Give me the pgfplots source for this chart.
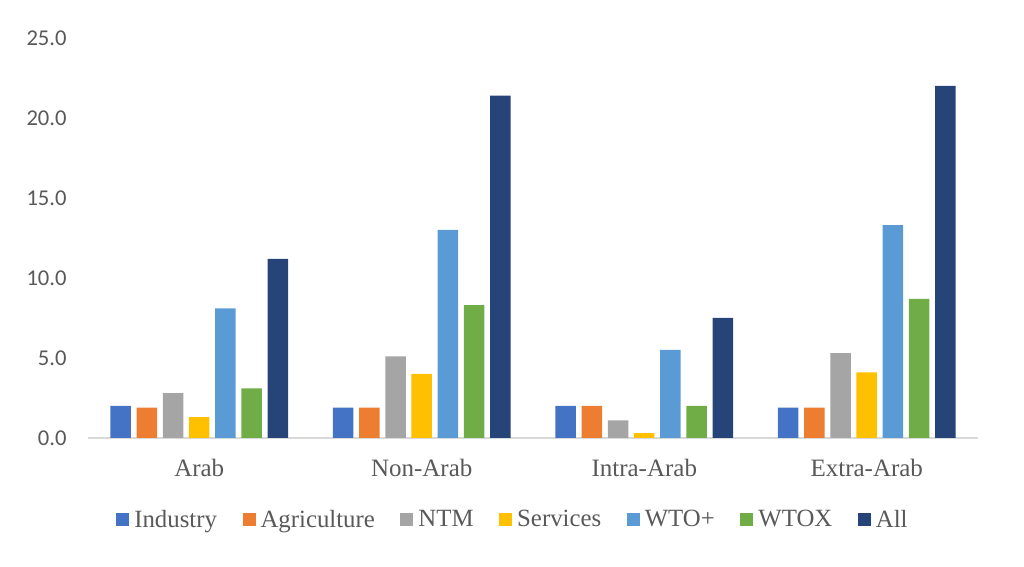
\documentclass[border=0pt]{standalone}
\usepackage{pgfplots}
\pgfplotsset{compat=1.18}
\usepackage{fontspec}
\setmainfont{Liberation Serif}
\newfontfamily\carlito{Carlito}
\definecolor{cInd}{HTML}{4472C4}
\definecolor{cAgr}{HTML}{ED7D31}
\definecolor{cNTM}{HTML}{A5A5A5}
\definecolor{cSer}{HTML}{FFC000}
\definecolor{cWTOp}{HTML}{5B9BD5}
\definecolor{cWTOX}{HTML}{70AD47}
\definecolor{cAll}{HTML}{264478}
\definecolor{txt}{HTML}{595959}
\definecolor{axl}{HTML}{D9D9D9}
\begin{document}
\begin{tikzpicture}
\path[use as bounding box] (0,0) rectangle (512pt,283.5pt);
\begin{axis}[
  at={(44pt,64.5pt)}, anchor=south west,
  scale only axis, width=445pt, height=200pt,
  xmin=-0.5, xmax=3.5, ymin=0, ymax=25,
  axis x line=bottom, axis y line=left,
  y axis line style={draw=none},
  x axis line style={-, draw=axl, line width=0.8pt},
  major tick length=0pt,
  xtick={0,1,2,3},
  xticklabels={Arab,Non-Arab,Intra-Arab,Extra-Arab},
  xticklabel style={anchor=base, inner sep=0pt, yshift=-19.1pt, font=\fontsize{12.5}{14}\selectfont, text=txt},
  ytick={0,5,10,15,20,25},
  yticklabel style={anchor=east, inner sep=0pt, xshift=-10.5pt, font=\carlito\fontsize{11.3}{12}\selectfont, text=txt},
  /pgf/number format/assume math mode=true,
  /pgf/number format/.cd, fixed, fixed zerofill, precision=1, /pgfplots/.cd,
  ybar, bar width=10.25pt,
  every axis plot/.append style={draw=none},
  legend columns=7,
  legend image code/.code={\fill[#1] (0pt,-3.25pt) rectangle (6.5pt,3.25pt);},
  legend style={at={(0.4764,-0.205)}, anchor=center, draw=none, fill=none,
    font=\fontsize{12.4}{13}\selectfont, text=txt,
    nodes={inner sep=0pt},
    /tikz/every odd column/.append style={column sep=2.5pt},
    /tikz/every even column/.append style={column sep=12.8pt}},
]
\addplot[fill=cInd, bar shift=-39.3pt] coordinates {(0,2.0) (1,1.9) (2,2.0) (3,1.9)};
\addplot[fill=cAgr, bar shift=-26.2pt] coordinates {(0,1.9) (1,1.9) (2,2.0) (3,1.9)};
\addplot[fill=cNTM, bar shift=-13.1pt] coordinates {(0,2.8) (1,5.1) (2,1.1) (3,5.3)};
\addplot[fill=cSer, bar shift=0pt] coordinates {(0,1.3) (1,4.0) (2,0.3) (3,4.1)};
\addplot[fill=cWTOp, bar shift=13.1pt] coordinates {(0,8.1) (1,13.0) (2,5.5) (3,13.3)};
\addplot[fill=cWTOX, bar shift=26.2pt] coordinates {(0,3.1) (1,8.3) (2,2.0) (3,8.7)};
\addplot[fill=cAll, bar shift=39.3pt] coordinates {(0,11.2) (1,21.4) (2,7.5) (3,22.0)};
\legend{Industry,Agriculture,NTM,Services,WTO+,WTOX,All}
\end{axis}
\end{tikzpicture}
\end{document}
